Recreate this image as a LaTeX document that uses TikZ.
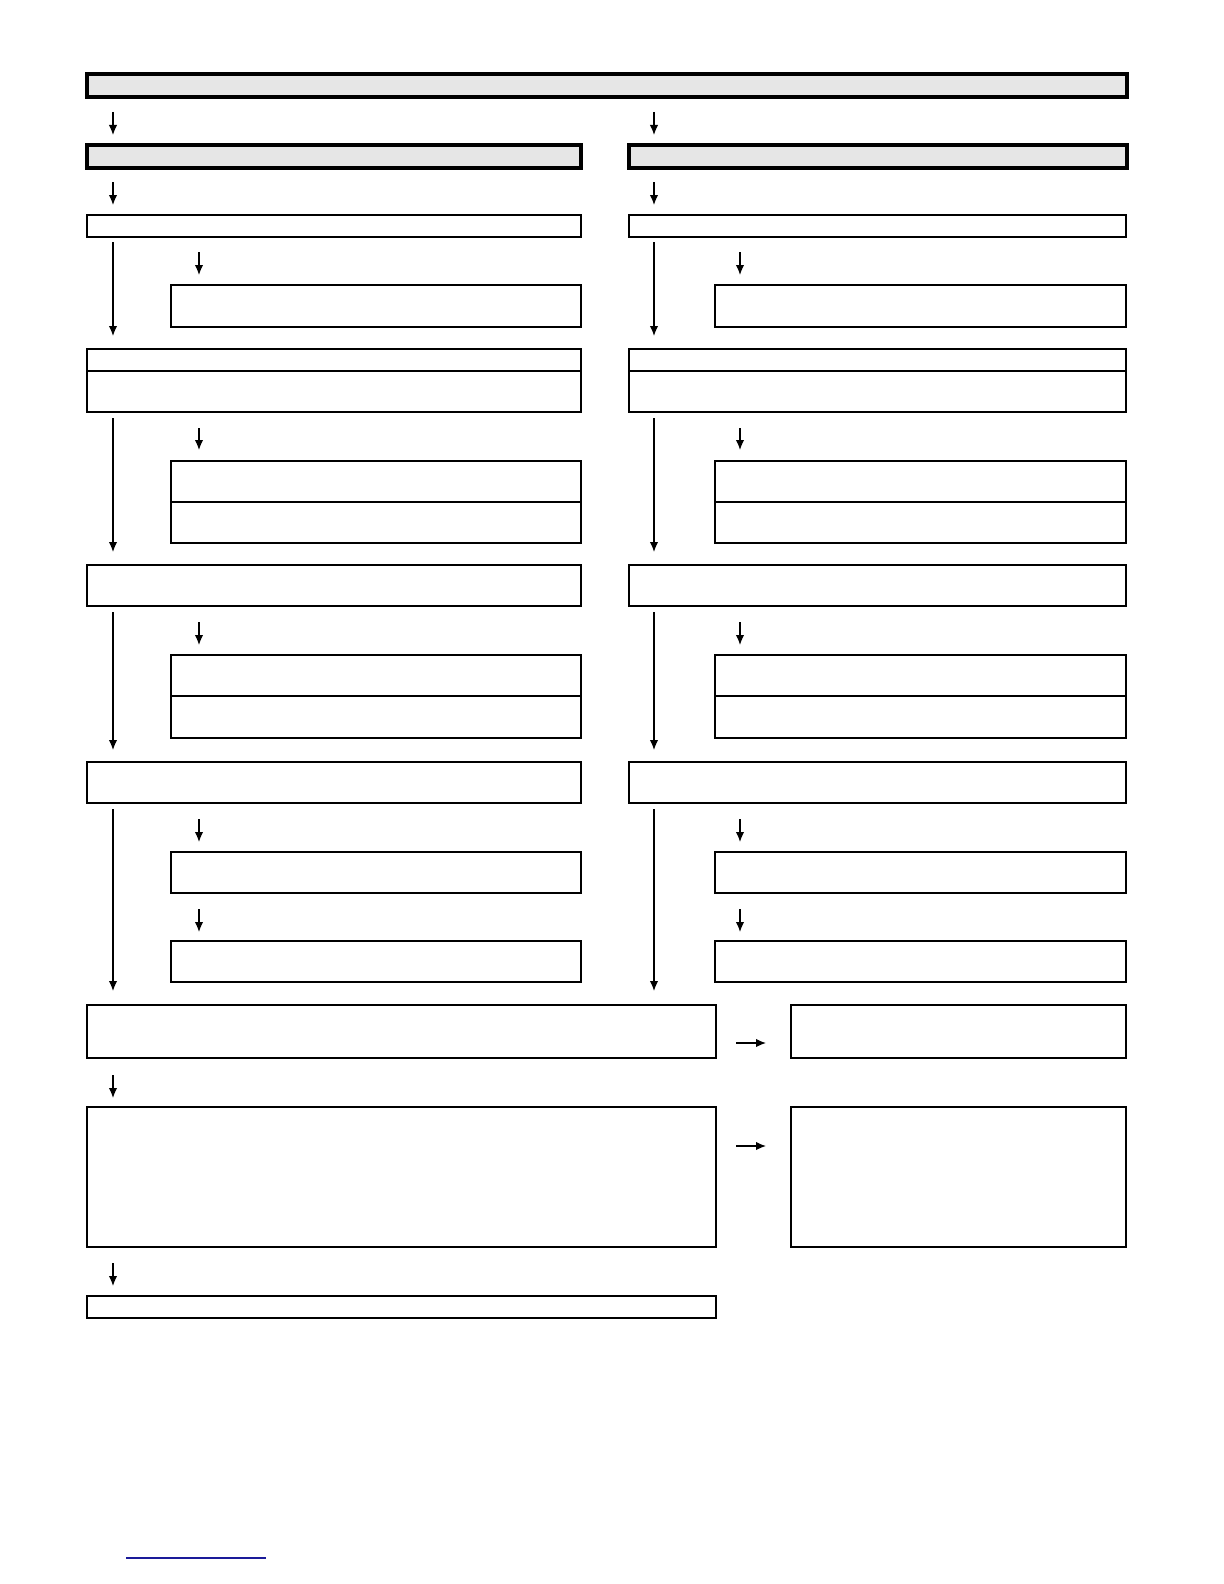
\documentclass[tikz,border=0pt]{standalone}
\usetikzlibrary{arrows.meta}
\definecolor{barfill}{HTML}{E6E6E6}
\definecolor{linkblue}{HTML}{1A1A99}
\newcommand\varrow[4]{\coordinate (#1s) at (#2,#3); \coordinate (#1e) at (#2,#4); \draw[arr] (#1s) -- (#1e);}
\newcommand\harrow[4]{\coordinate (#1s) at (#3,#2); \coordinate (#1e) at (#4,#2); \draw[arr] (#1s) -- (#1e);}
\begin{document}
\begin{tikzpicture}[x=0.5pt,y=-0.5pt,
  bar/.style={draw, line width=2pt, fill=barfill, inner sep=0pt, outer sep=0pt, anchor=north west, minimum height=11.5pt},
  box/.style={draw, line width=0.75pt, inner sep=0pt, outer sep=0pt, anchor=north west},
  arr/.style={line width=0.6pt, -{Latex[length=5pt,width=4.2pt]}}]
\useasboundingbox (0,0) rectangle (1224,1584);
% headers
\node[bar, minimum width=520pt] (top) at (87,74) {};
\varrow{a1}{113}{112}{135}
\varrow{a2}{654}{112}{135}
\node[bar, minimum width=247pt] (hl) at (87,145) {};
\node[bar, minimum width=249pt] (hr) at (629,145) {};
\varrow{a3}{113}{182}{205}
\varrow{a4}{654}{182}{205}
% columns
\foreach \side/\bx/\bw/\sx/\sw/\lx/\ax in {L/87/247pt/171/205pt/113/199, R/629/248.5pt/715/205.5pt/654/740}{
  \node[box, minimum width=\bw, minimum height=11pt] (r1\side) at (\bx,215) {};
  \coordinate (l1\side s) at (\lx,242); \coordinate (l1\side e) at (\lx,336);
  \draw[arr] (l1\side s) -- (l1\side e);
  \coordinate (s1\side s) at (\ax,252); \coordinate (s1\side e) at (\ax,275);
  \draw[arr] (s1\side s) -- (s1\side e);
  \node[box, minimum width=\sw, minimum height=21pt] (b1\side) at (\sx,285) {};
  \node[box, minimum width=\bw, minimum height=11pt] (r2\side) at (\bx,349) {};
  \node[box, minimum width=\bw, minimum height=20.5pt] (r2b\side) at (\bx,371) {};
  \coordinate (l2\side s) at (\lx,418); \coordinate (l2\side e) at (\lx,552);
  \draw[arr] (l2\side s) -- (l2\side e);
  \coordinate (s2\side s) at (\ax,428); \coordinate (s2\side e) at (\ax,450);
  \draw[arr] (s2\side s) -- (s2\side e);
  \node[box, minimum width=\sw, minimum height=20.5pt] (b2\side) at (\sx,461) {};
  \node[box, minimum width=\sw, minimum height=20.5pt] (b2b\side) at (\sx,502) {};
  \node[box, minimum width=\bw, minimum height=20.5pt] (r3\side) at (\bx,565) {};
  \coordinate (l3\side s) at (\lx,612); \coordinate (l3\side e) at (\lx,750);
  \draw[arr] (l3\side s) -- (l3\side e);
  \coordinate (s3\side s) at (\ax,622); \coordinate (s3\side e) at (\ax,645);
  \draw[arr] (s3\side s) -- (s3\side e);
  \node[box, minimum width=\sw, minimum height=20.5pt] (b3\side) at (\sx,655) {};
  \node[box, minimum width=\sw, minimum height=21pt] (b3b\side) at (\sx,696) {};
  \node[box, minimum width=\bw, minimum height=20.5pt] (r4\side) at (\bx,762) {};
  \coordinate (l4\side s) at (\lx,809); \coordinate (l4\side e) at (\lx,991);
  \draw[arr] (l4\side s) -- (l4\side e);
  \coordinate (s4\side s) at (\ax,819); \coordinate (s4\side e) at (\ax,842);
  \draw[arr] (s4\side s) -- (s4\side e);
  \node[box, minimum width=\sw, minimum height=20.5pt] (b4\side) at (\sx,852) {};
  \coordinate (s5\side s) at (\ax,909); \coordinate (s5\side e) at (\ax,932);
  \draw[arr] (s5\side s) -- (s5\side e);
  \node[box, minimum width=\sw, minimum height=20.5pt] (b5\side) at (\sx,941) {};
}
% bottom part
\node[box, minimum width=314.5pt, minimum height=26.5pt] (m1) at (87,1005) {};
\node[box, minimum width=167.5pt, minimum height=26.5pt] (m1r) at (791,1005) {};
\harrow{h1}{1043}{736}{766}
\varrow{a5}{113}{1075}{1098}
\node[box, minimum width=314.5pt, minimum height=70pt] (m2) at (87,1107) {};
\node[box, minimum width=167.5pt, minimum height=70pt] (m2r) at (791,1107) {};
\harrow{h2}{1146}{736}{766}
\varrow{a6}{113}{1263}{1286}
\node[box, minimum width=314.5pt, minimum height=11pt] (m3) at (87,1296) {};
% link underline
\coordinate (u1) at (126,1558); \coordinate (u2) at (266,1558);
\draw[linkblue, line width=0.75pt] (u1) -- (u2);
\end{tikzpicture}
\end{document}
